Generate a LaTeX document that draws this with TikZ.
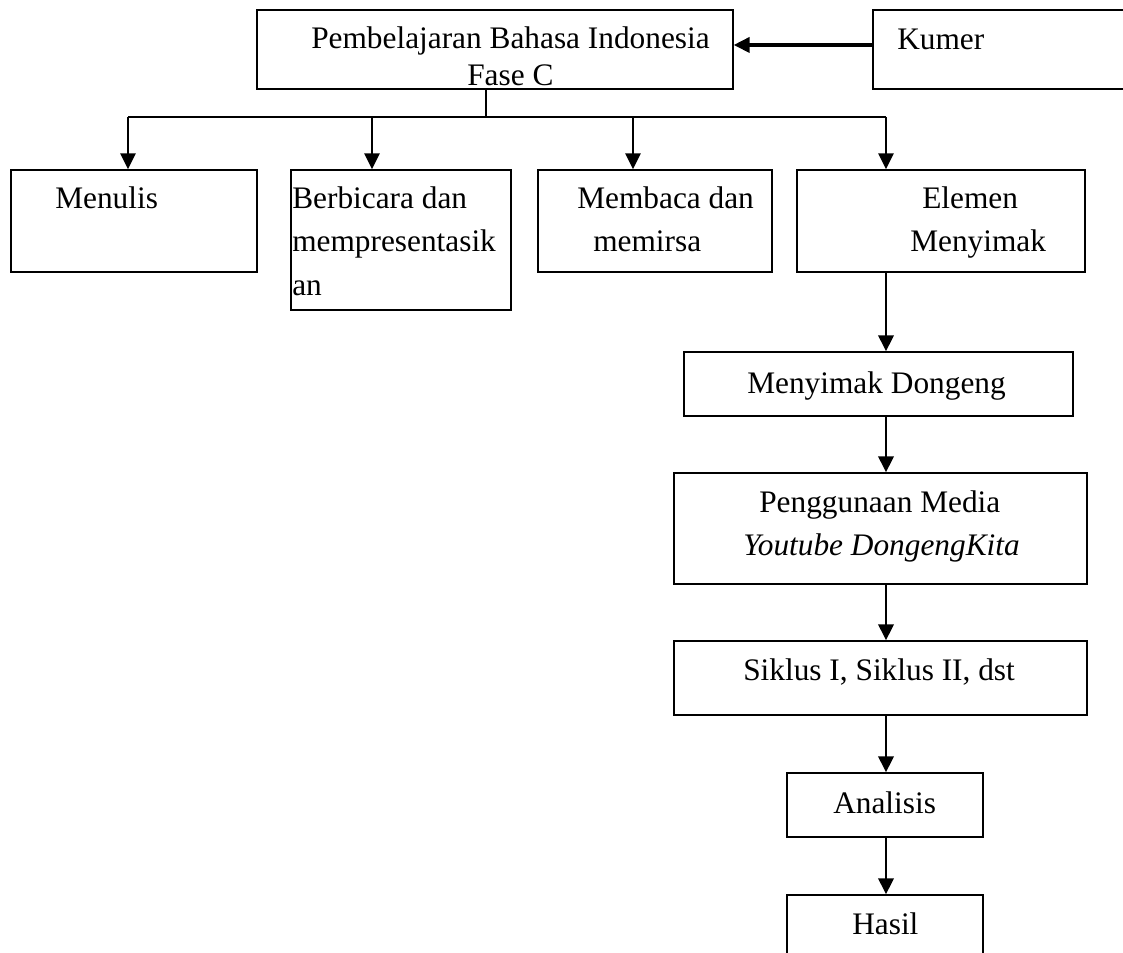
\documentclass[tikz,border=0pt]{standalone}
\usepackage{fontspec}
\setmainfont{Liberation Serif}
\usetikzlibrary{arrows.meta,fit}
\begin{document}
\begin{tikzpicture}[x=0.75pt,y=-0.75pt,
  box/.style={draw, line width=1.1pt, rectangle, inner sep=0pt},
  txt/.style={inner sep=0pt, anchor=base west, font=\fontsize{23.5}{28}\selectfont},
  arr/.style={-{Triangle[length=12pt,width=11.5pt]}, line width=1.5pt},
  colarr/.style={arr, line width=2pt},
  bus/.style={line width=1.1pt}]
\useasboundingbox (0,0) rectangle (1123,952);
% boxes
\node[box, fit={(257,10) (733,89)}] (top) {};
\node[box, fit={(873,10) (1140,89)}] (kumer) {};
\node[box, fit={(11,170) (257,272)}] (menulis) {};
\node[box, fit={(291,170) (511,310)}] (berbicara) {};
\node[box, fit={(538,170) (772,272)}] (membaca) {};
\node[box, fit={(797,170) (1085,272)}] (elemen) {};
\node[box, fit={(684,352) (1073,416)}] (dongeng) {};
\node[box, fit={(674,473) (1087,584)}] (media) {};
\node[box, fit={(674,641) (1087,715)}] (siklus) {};
\node[box, fit={(787,773) (983,837)}] (analisis) {};
\node[box, fit={(787,895) (983,970)}] (hasil) {};
% texts
\node[txt] (ttop1) at (311,49) {Pembelajaran Bahasa Indonesia};
\node[txt] (ttop2) at (467,86) {Fase C};
\node[txt] (tkumer) at (897,50) {Kumer};
\node[txt] (tmenulis) at (55,209) {Menulis};
\node[txt] (tber1) at (292,209) {Berbicara dan};
\node[txt] (tber2) at (292,251) {mempresentasik};
\node[txt] (tber3) at (292,295) {an};
\node[txt] (tmem1) at (577,209) {Membaca dan};
\node[txt] (tmem2) at (593,252) {memirsa};
\node[txt] (tele1) at (922,209) {Elemen};
\node[txt] (tele2) at (910,252) {Menyimak};
\node[txt] (tdongeng) at (747,393) {Menyimak Dongeng};
\node[txt] (tmedia1) at (759,512) {Penggunaan Media};
\node[txt] (tmedia2) at (743,555) {\itshape Youtube DongengKita};
\node[txt] (tsiklus) at (743,680) {Siklus I, Siklus II, dst};
\node[txt] (tanalisis) at (833,813) {Analisis};
\node[txt] (thasil) at (852,934) {Hasil};
% connectors
\draw[arr, line width=2.4pt] ([yshift=3.4pt]kumer.west) -- ([yshift=3.4pt]top.east);
\coordinate (hub) at (486,117);
\coordinate (d1) at (128,117);
\coordinate (d2) at (372,117);
\coordinate (d3) at (633,117);
\coordinate (d4) at (886,117);
\draw[bus] (top.south -| hub) -- (hub);
\draw[bus] (d1) -- (d4);
\draw[arr] (d1) -- (d1 |- menulis.north);
\draw[arr] (d2) -- (d2 |- berbicara.north);
\draw[arr] (d3) -- (d3 |- membaca.north);
\draw[arr] (d4) -- (d4 |- elemen.north);
\draw[colarr] (elemen.south -| d4) -- (dongeng.north -| d4);
\draw[colarr] (dongeng.south -| d4) -- (media.north -| d4);
\draw[colarr] (media.south -| d4) -- (siklus.north -| d4);
\draw[colarr] (siklus.south -| d4) -- (analisis.north -| d4);
\draw[colarr] (analisis.south -| d4) -- (hasil.north -| d4);
\end{tikzpicture}
\end{document}
